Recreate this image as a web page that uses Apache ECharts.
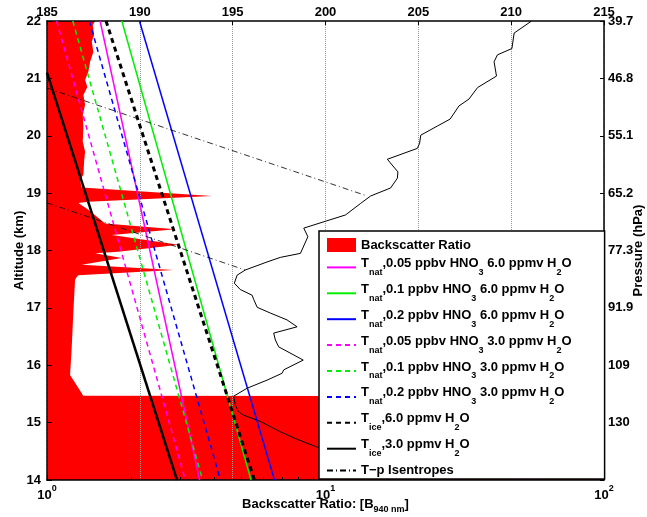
<!DOCTYPE html>
<html><head><meta charset="utf-8">
<script src="https://cdn.jsdelivr.net/npm/echarts@6/dist/echarts.min.js"></script>
<style>html,body{margin:0;padding:0;background:#fff}#c{width:647px;height:517px}</style>
</head><body><div id="c"></div>
<script>
const FONT = '"Liberation Sans", Arial, Helvetica, sans-serif';

// Backscatter ratio profile (red fill): ratio value and altitude (km)
const bsrBase = 1;
const bsrValues = [1.488,1.460,1.476,1.448,1.467,1.428,1.408,1.370,1.396,1.351,1.370,1.344,1.351,1.344,1.370,1.359,1.351,1.314,1.333,3.912,1.408,1.296,1.408,1.617,2.887,1.709,2.967,1.805,1.488,1.856,1.333,2.847,1.296,1.279,1.261,1.243,1.227,1.210,1.333,1.347,100,100];
const bsrAltitudes = [22.00,21.93,21.76,21.64,21.46,21.29,21.12,20.97,20.85,20.71,20.54,20.36,20.14,19.90,19.72,19.55,19.32,19.23,19.10,18.95,18.85,18.83,18.71,18.47,18.37,18.27,18.10,17.98,17.95,17.87,17.75,17.66,17.57,17.54,17.49,16.91,16.32,15.83,15.51,15.47,15.46,14.00];

// Temperature profile (K) vs altitude (km)
const tempValues = [211.10,210.16,210.04,209.26,209.08,209.21,208.19,207.73,207.19,206.71,206.03,205.13,205.07,204.95,203.33,203.90,203.87,203.51,202.43,201.89,201.08,200.00,198.83,199.05,198.65,197.57,196.85,195.68,195.24,195.09,195.41,196.05,196.13,196.32,197.03,197.93,198.47,197.21,197.30,197.48,198.80,197.75,197.66,196.85,195.78,195.05,195.14,195.32,195.59,196.49,197.57,198.47,199.73,201.90,203.50];
const tempAltitudes = [22.00,21.79,21.52,21.41,21.29,21.04,20.84,20.64,20.52,20.29,20.17,20.01,19.87,19.78,19.59,19.37,19.26,19.09,18.95,18.82,18.62,18.51,18.39,18.24,17.95,17.88,17.80,17.66,17.57,17.43,17.32,17.22,17.15,17.01,16.91,16.79,16.67,16.56,16.44,16.32,16.09,15.92,15.86,15.74,15.60,15.46,15.31,15.19,15.13,15.02,14.84,14.71,14.55,14.31,14.00];

// Threshold temperature lines [T (K), altitude (km)]
const tNat005_6 = [[187.86,22],[193.22,14]];
const tNat01_6  = [[189.03,22],[195.99,14]];
const tNat02_6  = [[189.98,22],[197.25,14]];
const tNat005_3 = [[185.52,22],[192.45,14]];
const tNat01_3  = [[186.39,22],[193.38,14]];
const tNat02_3  = [[187.28,22],[194.34,14]];
const tIce6     = [[188.18,22],[196.17,14]];
const tIce3     = [[185.00,21.1],[192.00,14]];

// T-p isentropes
const isentrope1 = [[185,20.83],[202.25,18.95]];
const isentrope2 = [[185,18.83],[195.68,17.66]];

// Axis labels
const altitudeTicks = [14,15,16,17,18,19,20,21,22];
const pressureLabels = ['','130','109','91.9','77.3','65.2','55.1','46.8','39.7'];
const minorLogTicks = [2,3,4,5,6,7,8,9,20,30,40,50,60,70,80,90];

// Legend names and rich labels
const legendNames = [
  'Backscatter Ratio',
  'Tnat,0.05 ppbv HNO3 6.0 ppmv H2O',
  'Tnat,0.1 ppbv HNO3 6.0 ppmv H2O',
  'Tnat,0.2 ppbv HNO3 6.0 ppmv H2O',
  'Tnat,0.05 ppbv HNO3 3.0 ppmv H2O',
  'Tnat,0.1 ppbv HNO3 3.0 ppmv H2O',
  'Tnat,0.2 ppbv HNO3 3.0 ppmv H2O',
  'Tice,6.0 ppmv H2O',
  'Tice,3.0 ppmv H2O',
  'T\u2212p Isentropes'
];
const legendRich = {
  'Tnat,0.05 ppbv HNO3 6.0 ppmv H2O': '{m|T}{s|nat}{m|,0.05 ppbv HNO}{s|3}{m| 6.0 ppmv H}{s|2}{m|O}',
  'Tnat,0.1 ppbv HNO3 6.0 ppmv H2O': '{m|T}{s|nat}{m|,0.1 ppbv HNO}{s|3}{m| 6.0 ppmv H}{s|2}{m|O}',
  'Tnat,0.2 ppbv HNO3 6.0 ppmv H2O': '{m|T}{s|nat}{m|,0.2 ppbv HNO}{s|3}{m| 6.0 ppmv H}{s|2}{m|O}',
  'Tnat,0.05 ppbv HNO3 3.0 ppmv H2O': '{m|T}{s|nat}{m|,0.05 ppbv HNO}{s|3}{m| 3.0 ppmv H}{s|2}{m|O}',
  'Tnat,0.1 ppbv HNO3 3.0 ppmv H2O': '{m|T}{s|nat}{m|,0.1 ppbv HNO}{s|3}{m| 3.0 ppmv H}{s|2}{m|O}',
  'Tnat,0.2 ppbv HNO3 3.0 ppmv H2O': '{m|T}{s|nat}{m|,0.2 ppbv HNO}{s|3}{m| 3.0 ppmv H}{s|2}{m|O}',
  'Tice,6.0 ppmv H2O': '{m|T}{s|ice}{m|,6.0 ppmv H}{s|2}{m|O}',
  'Tice,3.0 ppmv H2O': '{m|T}{s|ice}{m|,3.0 ppmv H}{s|2}{m|O}'
};

const chart = echarts.init(document.getElementById('c'), null, {renderer:'canvas'});

function lineSeries(name, data, color, width, type) {
  return {
    type:'line', name, data, xAxisIndex:1, yAxisIndex:0,
    symbol:'none', showSymbol:false, animation:false, z:3,
    lineStyle:{color, width, type, cap:'butt'}, itemStyle:{color}
  };
}

const boldLabel = {fontFamily:FONT, fontWeight:'bold', fontSize:13, color:'#000'};
const axisLine = {show:true, lineStyle:{color:'#000', width:1.5}};

const option = {
  animation:false,
  backgroundColor:'#fff',
  grid:{left:47, top:21, right:43, bottom:37, containLabel:false, outerBoundsMode:'none'},
  xAxis:[
    { type:'log', logBase:10, min:1, max:100, position:'bottom',
      axisLine, axisTick:{show:true, inside:true, length:5, lineStyle:{color:'#000', width:1}},
      splitLine:{show:false},
      axisLabel:{...boldLabel, margin:4,
        formatter:v => '{b|10}{p|' + Math.round(Math.log10(v)) + '}',
        rich:{b:{...boldLabel, verticalAlign:'bottom', lineHeight:18},
              p:{fontFamily:FONT, fontWeight:'bold', fontSize:9, color:'#000', verticalAlign:'top', lineHeight:18}}},
      name:'Backscatter Ratio: [B{s|940 nm}]', nameLocation:'middle', nameGap:14, nameMoveOverlap:false,
      nameTextStyle:{...boldLabel, rich:{s:{fontFamily:FONT, fontWeight:'bold', fontSize:9, color:'#000', verticalAlign:'bottom', lineHeight:20}}}
    },
    { type:'value', min:185, max:215, interval:5, position:'top',
      axisLine, axisTick:{show:true, inside:true, length:4, lineStyle:{color:'#000'}},
      splitLine:{show:true, lineStyle:{color:'#9a9a9a', type:'dotted', width:1}},
      axisLabel:{...boldLabel, margin:2}
    },
    { type:'log', logBase:10, min:1, max:100, position:'bottom',
      axisLine:{show:false}, axisLabel:{show:false}, splitLine:{show:false},
      axisTick:{show:true, inside:true, length:3, customValues:minorLogTicks, lineStyle:{color:'#000', width:1}}
    }
  ],
  yAxis:[
    { type:'value', min:14, max:22, interval:1, position:'left',
      axisLine, axisTick:{show:true, inside:true, length:5, lineStyle:{color:'#000'}},
      splitLine:{show:false},
      axisLabel:{...boldLabel, margin:6},
      name:'Altitude (km)', nameLocation:'middle', nameGap:21, nameRotate:90, nameMoveOverlap:false,
      nameTextStyle:{...boldLabel}
    },
    { type:'value', min:14, max:22, interval:1, position:'right',
      axisLine, axisTick:{show:true, inside:true, length:4, lineStyle:{color:'#000'}},
      splitLine:{show:false},
      axisLabel:{...boldLabel, margin:4, formatter:v => pressureLabels[altitudeTicks.indexOf(Math.round(v))] || ''},
      name:'Pressure (hPa)', nameLocation:'middle', nameGap:28, nameRotate:90, nameMoveOverlap:false,
      nameTextStyle:{...boldLabel}
    }
  ],
  legend:{
    show:true, orient:'vertical', left:319, top:231,
    backgroundColor:'#fff', borderColor:'#000', borderWidth:1.5, borderRadius:0,
    padding:[7,33,2,7], itemGap:4.9, itemWidth:29, itemHeight:14,
    selectedMode:false,
    itemStyle:{opacity:0},
    data:[{name:'Backscatter Ratio', icon:'rect', itemStyle:{opacity:1, color:'#ff0000'}}, ...legendNames.slice(1)],
    textStyle:{...boldLabel,
      rich:{
        m:{...boldLabel, verticalAlign:'top', lineHeight:21},
        s:{fontFamily:FONT, fontWeight:'bold', fontSize:9, color:'#000', verticalAlign:'bottom', lineHeight:21, padding:[0,0,1,0]}
      }},
    formatter:name => legendRich[name] || name
  },
  series:[
    { type:'custom', name:'Backscatter Ratio', coordinateSystem:'cartesian2d',
      xAxisIndex:0, yAxisIndex:0, z:-1, clip:true, animation:false,
      itemStyle:{color:'#ff0000'},
      data: bsrValues.map((v,i) => [v, bsrAltitudes[i]]),
      renderItem:(params, api) => {
        if (params.dataIndex !== 0) return null;
        const pts = [api.coord([bsrBase, bsrAltitudes[0]])];
        for (let i = 0; i < bsrValues.length; i++) pts.push(api.coord([bsrValues[i], bsrAltitudes[i]]));
        pts.push(api.coord([bsrBase, bsrAltitudes[bsrAltitudes.length-1]]));
        return {type:'polygon', shape:{points:pts}, style:{fill:'#ff0000', stroke:null}};
      }
    },
    lineSeries(legendNames[1], tNat005_6, '#ff00ff', 1.5, 'solid'),
    lineSeries(legendNames[2], tNat01_6, '#00ee00', 1.5, 'solid'),
    lineSeries(legendNames[3], tNat02_6, '#0000ff', 1.5, 'solid'),
    lineSeries(legendNames[4], tNat005_3, '#ff00ff', 1.5, [5,4]),
    lineSeries(legendNames[5], tNat01_3, '#00ee00', 1.5, [5,4]),
    lineSeries(legendNames[6], tNat02_3, '#0000ff', 1.5, [5,4]),
    lineSeries(legendNames[7], tIce6, '#000000', 3, [5,4]),
    lineSeries(legendNames[8], tIce3, '#000000', 2.5, 'solid'),
    lineSeries(legendNames[9], isentrope1, '#000000', 0.8, [6,3,1,3]),
    lineSeries(legendNames[9], isentrope2, '#000000', 0.8, [6,3,1,3]),
    Object.assign(lineSeries('Temperature', tempValues.map((t,i) => [t, tempAltitudes[i]]), '#000000', 1, 'solid'), {z:2})
  ]
};
chart.setOption(option);
</script>
</body></html>
